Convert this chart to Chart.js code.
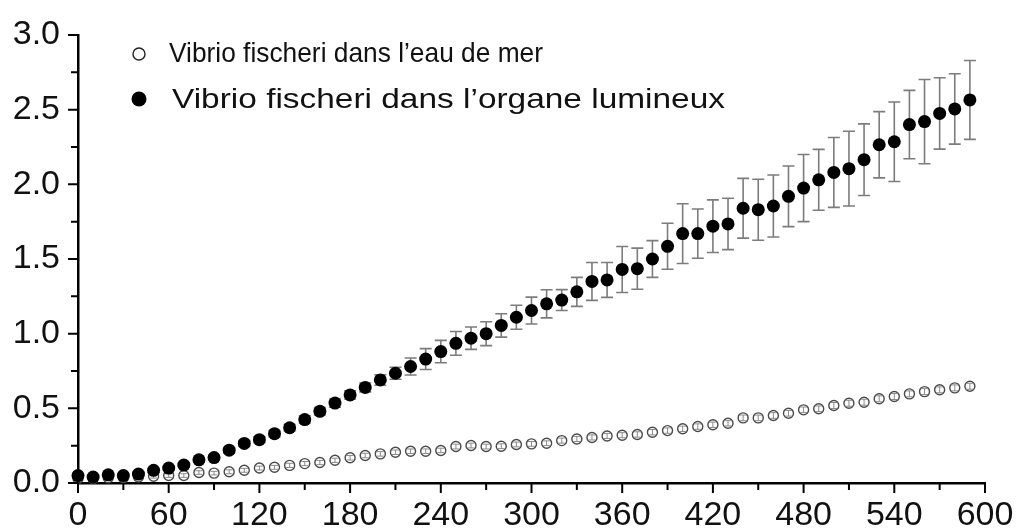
<!DOCTYPE html>
<html>
<head>
<meta charset="utf-8">
<script src="https://cdn.jsdelivr.net/npm/chart.js@4.4.1/dist/chart.umd.min.js"></script>
<style>
  html, body { margin: 0; padding: 0; background: #ffffff; }
  canvas { display: block; }
</style>
</head>
<body>
<canvas id="growth" width="1016" height="530"></canvas>
<script>
// Sampling times (every 10 units)
const times = [0,10,20,30,40,50,60,70,80,90,100,110,120,130,140,150,160,170,180,190,
  200,210,220,230,240,250,260,270,280,290,300,310,320,330,340,350,360,370,380,390,
  400,410,420,430,440,450,460,470,480,490,500,510,520,530,540,550,560,570,580,590];

// Vibrio fischeri grown in sea water (mean and error)
const seaWater = [0.03,0.03,0.035,0.035,0.04,0.045,0.05,0.05,0.07,0.066,
  0.075,0.085,0.10,0.105,0.118,0.13,0.137,0.152,0.169,0.184,
  0.195,0.206,0.213,0.213,0.218,0.244,0.251,0.244,0.246,0.258,
  0.262,0.266,0.284,0.295,0.305,0.315,0.32,0.325,0.34,0.351,
  0.363,0.378,0.39,0.40,0.436,0.436,0.452,0.467,0.49,0.497,
  0.519,0.534,0.541,0.564,0.579,0.597,0.612,0.624,0.637,0.648];
const seaWaterErr = [0.01,0.01,0.01,0.01,0.01,0.012,0.012,0.012,0.012,0.012,
  0.013,0.013,0.013,0.013,0.014,0.014,0.014,0.014,0.015,0.015,
  0.015,0.015,0.015,0.015,0.015,0.016,0.016,0.016,0.016,0.016,
  0.016,0.016,0.017,0.017,0.017,0.017,0.017,0.018,0.018,0.018,
  0.018,0.018,0.018,0.018,0.019,0.019,0.019,0.019,0.019,0.019,
  0.02,0.02,0.02,0.02,0.02,0.02,0.02,0.02,0.02,0.02];

// Vibrio fischeri grown in the light organ (mean and error)
const lightOrgan = [0.05,0.04,0.055,0.05,0.06,0.085,0.10,0.12,0.155,0.17,
  0.22,0.265,0.29,0.33,0.37,0.425,0.48,0.535,0.59,0.64,
  0.69,0.735,0.78,0.83,0.88,0.935,0.97,1.0,1.055,1.11,
  1.155,1.2,1.225,1.28,1.35,1.36,1.43,1.435,1.50,1.585,
  1.67,1.67,1.72,1.735,1.84,1.83,1.855,1.92,1.975,2.03,
  2.08,2.105,2.165,2.265,2.285,2.40,2.42,2.475,2.505,2.565];
const lightOrganErr = [0.01,0.01,0.01,0.01,0.012,0.012,0.012,0.013,0.013,0.014,
  0.018,0.02,0.02,0.022,0.022,0.025,0.025,0.028,0.028,0.03,
  0.035,0.04,0.057,0.07,0.075,0.08,0.075,0.08,0.078,0.08,
  0.09,0.094,0.07,0.097,0.127,0.117,0.154,0.138,0.123,0.154,
  0.2,0.165,0.176,0.172,0.2,0.204,0.208,0.203,0.225,0.204,
  0.234,0.25,0.24,0.222,0.266,0.229,0.282,0.239,0.236,0.264];

// Axis tick values
const xTicks = [0,60,120,180,240,300,360,420,480,540,600];
const yTicks = [0,0.5,1.0,1.5,2.0,2.5,3.0];

const seriesLabels = ['Vibrio fischeri dans l\u2019eau de mer', 'Vibrio fischeri dans l\u2019organe lumineux'];

const FONT = "'Liberation Sans', Arial, sans-serif";

function toPoints(values) {
  return times.map((t, i) => ({ x: t, y: values[i] }));
}

// Vertical error bars with caps, drawn through the chart scales
function drawErrors(chart, dsIndex, color, width, capHalf) {
  const ds = chart.data.datasets[dsIndex];
  const xs = chart.scales.x, ys = chart.scales.y;
  const ctx = chart.ctx;
  ctx.save();
  ctx.strokeStyle = color;
  ctx.lineWidth = width;
  ds.data.forEach((p, i) => {
    const e = ds.errors[i];
    const px = xs.getPixelForValue(p.x);
    const yt = ys.getPixelForValue(p.y + e);
    const yb = ys.getPixelForValue(p.y - e);
    ctx.beginPath();
    ctx.moveTo(px, yt); ctx.lineTo(px, yb);
    ctx.moveTo(px - capHalf, yt); ctx.lineTo(px + capHalf, yt);
    ctx.moveTo(px - capHalf, yb); ctx.lineTo(px + capHalf, yb);
    ctx.stroke();
  });
  ctx.restore();
}

const errorBars = {
  id: 'errorBars',
  beforeDatasetDraw(chart, args) {
    if (args.index === 1) drawErrors(chart, 1, '#7c7c7c', 1.6, 6);
  },
  afterDatasetDraw(chart, args) {
    if (args.index === 0) drawErrors(chart, 0, '#8a8a8a', 1, 3.5);
  }
};

// Major and minor outward tick marks on both axes
const tickMarks = {
  id: 'tickMarks',
  afterDraw(chart) {
    const ctx = chart.ctx;
    const xs = chart.scales.x, ys = chart.scales.y;
    const ca = chart.chartArea;
    ctx.save();
    ctx.strokeStyle = '#000';
    ctx.lineWidth = 2;
    ctx.beginPath();
    xTicks.forEach((v, i) => {
      const px = xs.getPixelForValue(v);
      ctx.moveTo(px, ca.bottom); ctx.lineTo(px, ca.bottom + 10);
      if (i < xTicks.length - 1) {
        const mx = xs.getPixelForValue((v + xTicks[i + 1]) / 2);
        ctx.moveTo(mx, ca.bottom); ctx.lineTo(mx, ca.bottom + 7);
      }
    });
    yTicks.forEach((v, i) => {
      const py = ys.getPixelForValue(v);
      ctx.moveTo(ca.left, py); ctx.lineTo(ca.left - 10, py);
      if (i < yTicks.length - 1) {
        const my = ys.getPixelForValue((v + yTicks[i + 1]) / 2);
        ctx.moveTo(ca.left, my); ctx.lineTo(ca.left - 7, my);
      }
    });
    ctx.stroke();
    ctx.restore();
  }
};

// Legend inside the plot, upper left
function legendText(ctx, text, x, y, targetWidth) {
  const w = ctx.measureText(text).width;
  ctx.save();
  ctx.translate(x, y);
  ctx.scale(targetWidth / w, 1);
  ctx.fillText(text, 0, 0);
  ctx.restore();
}

const insideLegend = {
  id: 'insideLegend',
  afterDraw(chart) {
    const ctx = chart.ctx;
    ctx.save();
    ctx.font = '28px ' + FONT;
    ctx.fillStyle = '#111';
    ctx.textBaseline = 'middle';
    ctx.textAlign = 'left';
    // open marker
    ctx.beginPath();
    ctx.arc(139, 54, 6, 0, Math.PI * 2);
    ctx.strokeStyle = '#222';
    ctx.lineWidth = 1.4;
    ctx.stroke();
    legendText(ctx, seriesLabels[0], 169, 54, 374);
    // filled marker
    ctx.beginPath();
    ctx.arc(139, 99, 7.5, 0, Math.PI * 2);
    ctx.fillStyle = '#000';
    ctx.fill();
    ctx.fillStyle = '#111';
    legendText(ctx, seriesLabels[1], 172, 100, 553);
    ctx.restore();
  }
};

new Chart(document.getElementById('growth'), {
  type: 'scatter',
  data: {
    datasets: [
      {
        label: seriesLabels[0],
        data: toPoints(seaWater),
        errors: seaWaterErr,
        pointStyle: 'circle',
        pointRadius: 5,
        pointBorderWidth: 1.4,
        pointBorderColor: '#4a4a4a',
        pointBackgroundColor: 'rgba(255,255,255,0)',
        showLine: false,
        clip: false,
        order: 1
      },
      {
        label: seriesLabels[1],
        data: toPoints(lightOrgan),
        errors: lightOrganErr,
        pointStyle: 'circle',
        pointRadius: 6.5,
        pointBorderWidth: 0,
        pointBorderColor: '#000',
        pointBackgroundColor: '#000',
        showLine: false,
        clip: false,
        order: 0
      }
    ]
  },
  options: {
    responsive: false,
    animation: false,
    devicePixelRatio: 1,
    layout: { padding: { left: 0, right: 31, top: 35, bottom: 0 } },
    plugins: {
      legend: { display: false },
      tooltip: { enabled: false }
    },
    scales: {
      x: {
        type: 'linear',
        min: 0, max: 600,
        afterBuildTicks(scale) { scale.ticks = xTicks.map(v => ({ value: v })); },
        afterFit(scale) {
          scale.height = 47;
          scale.paddingLeft = 0;
          scale.paddingRight = 0;
        },
        grid: { display: false, drawTicks: false, tickLength: 0 },
        border: { display: true, color: '#000', width: 2.5 },
        ticks: {
          color: '#111',
          font: { family: FONT, size: 34 },
          padding: 12,
          maxRotation: 0,
          autoSkip: false,
          callback: v => String(v)
        }
      },
      y: {
        type: 'linear',
        min: 0, max: 3,
        afterBuildTicks(scale) { scale.ticks = yTicks.map(v => ({ value: v })); },
        afterFit(scale) {
          scale.width = 78;
          scale.paddingTop = 0;
          scale.paddingBottom = 0;
        },
        grid: { display: false, drawTicks: false, tickLength: 0 },
        border: { display: true, color: '#000', width: 2.5 },
        ticks: {
          color: '#111',
          font: { family: FONT, size: 34 },
          padding: 18,
          autoSkip: false,
          callback: v => Number(v).toFixed(1)
        }
      }
    }
  },
  plugins: [errorBars, tickMarks, insideLegend]
});
</script>
</body>
</html>
